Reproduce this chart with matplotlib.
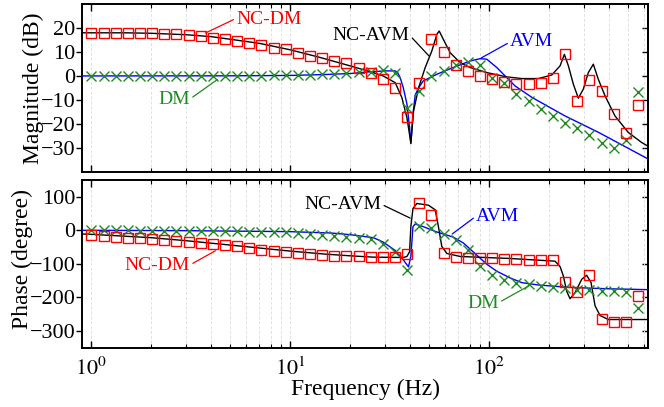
import numpy as np
import matplotlib.pyplot as plt
from matplotlib.ticker import NullFormatter, LogLocator

plt.rcParams['font.family'] = ['Liberation Serif', 'DejaVu Serif']
plt.rcParams['mathtext.fontset'] = 'stix'

# measurement frequencies (Hz) of the marker series
freq = [1.000, 1.151, 1.325, 1.525, 1.755, 2.020, 2.325, 2.676, 3.080, 3.546,
        4.081, 4.697, 5.407, 6.223, 7.163, 8.245, 9.490, 10.92, 12.57, 14.47,
        16.66, 19.17, 22.07, 25.40, 29.24, 33.65, 38.73, 44.58, 51.31, 59.06,
        67.98, 78.25, 90.06, 103.7, 119.3, 137.3, 158.1, 181.9, 209.4, 241.0,
        277.4, 319.3, 367.5, 423.0, 486.9, 560.5]

mag_ncdm = [18.0, 18.0, 18.0, 18.0, 17.9, 17.9, 17.6, 17.4, 17.0, 16.7,
            16.0, 15.3, 14.6, 13.6, 12.8, 11.7, 11.1, 9.6, 8.3, 7.4,
            6.2, 5.2, 3.5, 1.1, -1.2, -5.1, -17.0, -3.0, 15.3, 9.8,
            4.7, 2.1, 0.0, -1.4, -2.4, -3.5, -3.5, -3.1, -0.7, 9.3,
            -10.4, -1.8, -6.2, -16.0, -23.9, -12.1]
mag_dm = [0.0, 0.0, 0.0, 0.0, 0.0, 0.0, 0.0, 0.0, 0.0, 0.0,
          0.0, 0.0, 0.0, 0.1, 0.1, 0.2, 0.2, 0.3, 0.5, 0.8,
          1.0, 1.1, 1.8, 1.8, 2.5, 1.4, -13.2, -6.2, 0.0, 2.1,
          4.6, 6.0, 4.4, -0.7, -2.8, -7.4, -10.4, -13.9, -16.7, -19.5,
          -21.8, -24.7, -27.8, -30.1, -26.8, -6.5]

ph_ncdm = [-15, -18, -20, -22, -23, -25, -28, -31, -35, -38,
           -42, -45, -48, -54, -58, -62, -65, -68, -71, -74,
           -76, -76, -78, -80, -80, -80, -72, 82, 46, -69,
           -81, -82, -82, -83, -85, -87, -89, -89, -89, -154,
           -183, -134, -265, -272, -274, -196]
ph_dm = [0, 0, 0, 0, -1, -1, -1, -1, -2, -2,
         -2, -3, -3, -4, -5, -5, -6, -9, -11, -15,
         -18, -20, -23, -27, -42, -66, -119, 13, 8, -10,
         -30, -60, -105, -132, -147, -156, -160, -166, -168, -173,
         -178, -178, -180, -180, -185, -233]

# AVM model curves
avm_mag_f = [0.9, 1, 5, 10, 15, 20, 25, 30, 33.7, 34.6, 35.7, 37.0, 38.6, 39.8,
             40.4, 41.4, 42.5, 44.2, 46.6, 54.6, 65.9, 80.3, 90.1, 97.3, 109.3,
             120.3, 135.1, 164.4, 240.9, 355.7, 631.6]
avm_mag = [0.0, 0.0, 0.05, 0.2, 0.6, 1.0, 1.7, 2.1, 2.1, 1.5, -0.7, -4.9, -11.7, -21.5,
           -28.3, -15.9, -7.9, -5.0, -2.1, 0.7, 3.5, 6.25, 7.2, 7.0, 3.5,
           0.0, -4.2, -9.0, -16.7, -23.6, -34.7]
avm_ph_f = [0.9, 1, 3, 10, 16, 20, 26.2, 29.3, 33.7, 37.1, 39.3, 40.4, 41.4, 42.5,
            46.6, 54.6, 65.9, 74.3, 86.7, 97.3, 109.3, 127.6, 146, 176.9, 250,
            382.8, 631.6]
avm_ph = [0, 0, -1, -4, -8, -13, -22, -35, -60, -89, -109, -78, 11, 19,
          11, -5, -20, -38, -74, -101, -122, -142, -156, -163, -170,
          -174, -177]

# NC-AVM model curves
ncavm_mag_f = [0.9, 1.5, 2, 3, 4, 5, 7, 10, 14, 20, 25.2, 29.3, 33.7, 36.4, 38.6,
               40.4, 41.7, 44.2, 47.7, 51.5, 54.6, 56.1, 59.4, 63.7, 71.5, 80.3,
               97.3, 122.7, 146, 176.9, 206.6, 227.4, 239, 250.4, 265.3, 281,
               297.7, 315.5, 334.2, 354.1, 382.8, 429.5, 501.2, 585.3, 631.6]
ncavm_mag = [18.0, 18.0, 17.8, 17.2, 16.4, 15.3, 13.6, 10.9, 7.8, 4.2, 1.8, 0.0, -2.8, -9.0, -17.4,
             -28.0, -14.6, -4.9, 3.5, 10.4, 17.4, 18.75, 14.6, 9.7, 5.5, 3.5,
             1.4, -0.4, -1.1, -1.1, 0.4, 4.2, 9.0, 4.2, -3.5, -9.3,
             -5.5, 1.4, 4.9, -1.4, -8.3, -16.7, -23.6, -27.8, -29.4]
ncavm_ph_f = [0.9, 1, 2, 3, 5, 10, 15, 20, 26.2, 37.1, 38.6, 39.8, 40.4, 41.4, 43.3,
              49.5, 53.6, 55.6, 57.8, 61.3, 71.5, 127.6, 176.7, 214.6, 227.4, 236.2,
              245.6, 255.3, 270.4, 292.2, 309.5, 325.6, 341.0, 361.2, 397.9, 631.6]
ncavm_ph = [-11, -12, -22, -31, -44, -62, -71, -76, -80, -81, -78, -64, 11, 65, 80,
            75, 61, 11, -48, -69, -78, -84, -89, -92, -108, -136,
            -182, -204, -186, -146, -134, -156, -225, -254, -266, -266]

RED = '#ff0000'
GREEN = '#208a20'
BLUE = '#0000ff'

fig = plt.figure(figsize=(6.64, 4.07), dpi=100)
ax1 = fig.add_axes([0.124, 0.578, 0.852, 0.412])
ax2 = fig.add_axes([0.124, 0.1457, 0.852, 0.412])


def draw(ax, fa, ya, fn, yn, mn, md):
    ax.plot(fa, ya, color=BLUE, lw=1.0, zorder=3)
    ax.plot(fn, yn, color='black', lw=1.0, zorder=3)
    ax.plot(freq, md, ls='none', marker='x', ms=6.5, mew=1.0, color=GREEN, zorder=4)
    ax.plot(freq, mn, ls='none', marker='s', ms=7.5, mew=1.0, mfc='none', mec=RED, zorder=5)


draw(ax1, avm_mag_f, avm_mag, ncavm_mag_f, ncavm_mag, mag_ncdm, mag_dm)
draw(ax2, avm_ph_f, avm_ph, ncavm_ph_f, ncavm_ph, ph_ncdm, ph_dm)

for ax in (ax1, ax2):
    ax.set_xscale('log')
    ax.set_xlim(0.9, 630)
    ax.xaxis.set_minor_locator(LogLocator(base=10, subs=np.arange(2, 10)))
    ax.xaxis.set_minor_formatter(NullFormatter())
    ax.grid(True, which='both', axis='x', color='#e0e0e0', ls=(0, (3, 2)), lw=0.7)
    ax.tick_params(axis='x', which='both', direction='in', top=True, bottom=True)
    ax.tick_params(axis='x', which='major', length=5, width=1.0)
    ax.tick_params(axis='x', which='minor', length=3, width=0.8)
    ax.tick_params(axis='y', direction='out', length=4, width=1.0, labelsize=16, pad=1)
    for s in ax.spines.values():
        s.set_linewidth(1.4)

ax1.set_ylim(-40, 30)
ax1.set_yticks([-30, -20, -10, 0, 10, 20])
ax1.tick_params(axis='x', labelbottom=False)
ax1.set_ylabel('Magnitude (dB)', fontsize=17)
ax1.yaxis.set_label_coords(-0.068, 0.5)

ax2.set_ylim(-350, 150)
ax2.set_yticks([-300, -200, -100, 0, 100])
ax2.set_xticks([1, 10, 100], ['$10^{0}$', '$10^{1}$', '$10^{2}$'])
ax2.tick_params(axis='x', which='major', labelsize=16, pad=7)
ax2.set_ylabel('Phase (degree)', fontsize=17)
ax2.yaxis.set_label_coords(-0.087, 0.53)
ax2.set_xlabel('Frequency (Hz)', fontsize=17, labelpad=-1)

for ax, ticks in ((ax1, [-30, -20, -10, 0, 10, 20]), (ax2, [-300, -200, -100, 0, 100])):
    sec = ax.secondary_yaxis('right')
    sec.set_yticks(ticks)
    sec.tick_params(direction='in', length=4, width=1.0, labelright=False)
    sec.spines['right'].set_linewidth(1.4)


def label(ax, text, xy_text, xy, color, rel):
    ax.annotate(text, xy=xy, xytext=xy_text, textcoords='data', color=color,
                fontsize=14, ha='left', va='center',
                arrowprops=dict(arrowstyle='-', color=color, lw=0.9,
                                shrinkA=0, shrinkB=0, relpos=rel), zorder=6)


label(ax1, 'NC-DM', (5.35, 23.7), (3.74, 17.9), RED, (0, 0.55))
label(ax1, 'DM', (2.17, -10), (4.3, -1.5), GREEN, (1, 0.55))
label(ax1, 'NC-AVM', (16.3, 16.7), (49.9, 8.3), 'black', (1, 0.55))
label(ax1, 'AVM', (127.6, 14.2), (91.2, 7.5), BLUE, (0, 0.5))

label(ax2, 'NC-AVM', (11.76, 77.8), (40.1, 36.4), 'black', (1, 0.5))
label(ax2, 'AVM', (86, 42.3), (65.2, -11), BLUE, (0, 0.5))
label(ax2, 'DM', (77.5, -218), (159, -165), GREEN, (1, 0.55))
label(ax2, 'NC-DM', (1.47, -105.6), (4.2, -61), RED, (1, 0.55))

fig.savefig('out.png', dpi=100)
